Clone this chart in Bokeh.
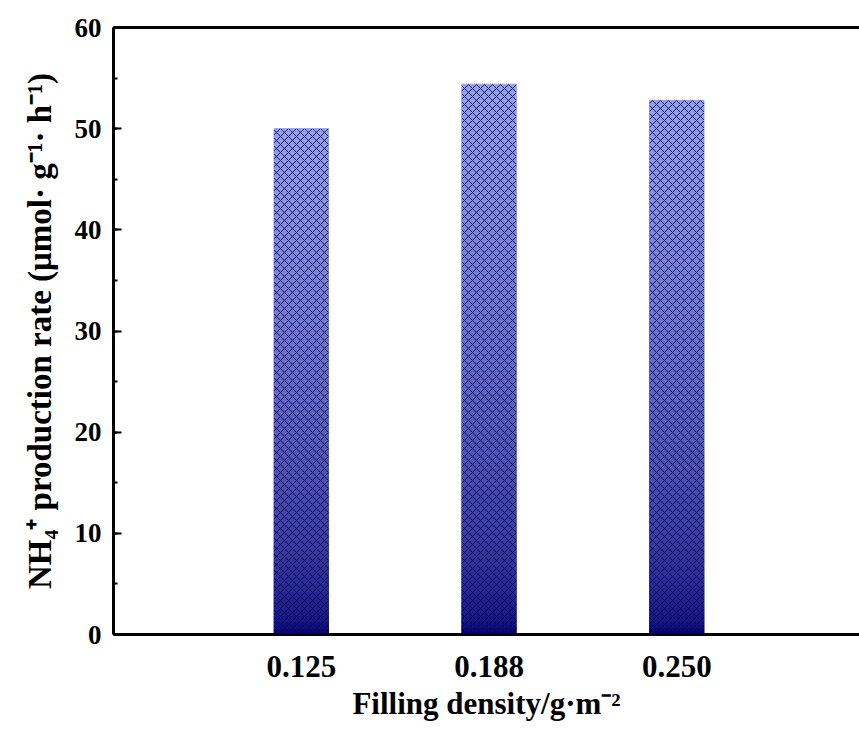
import numpy as np
from bokeh.plotting import figure
from bokeh.models import FixedTicker, SingleIntervalTicker, Range1d, LinearAxis, ColumnDataSource
from bokeh.embed import file_html
from bokeh.resources import INLINE

categories = ["0.125", "0.188", "0.250"]
values = [50.0, 54.4, 52.8]
positions = [1, 2, 3]

FONT = "Liberation Serif"
top_rgb = np.array([148, 158, 245])
bot_rgb = np.array([5, 5, 130])

p = figure(width=859, height=729, output_backend="svg", toolbar_location=None,
           x_range=Range1d(0, 3.973), y_range=Range1d(0, 60),
           min_border_left=113, min_border_right=0, min_border_top=27, min_border_bottom=95)
p.outline_line_color = None
p.grid.visible = False
p.background_fill_color = "white"
p.border_fill_color = "white"

bw = 0.29
N = 80
left, right, bottom, top, colors = [], [], [], [], []
for x, v in zip(positions, values):
    for i in range(N):
        f = i / (N - 1)
        c = bot_rgb + (top_rgb - bot_rgb) * (f ** 0.6)
        left.append(x - bw / 2); right.append(x + bw / 2)
        bottom.append(v * i / N); top.append(v * (i + 1) / N)
        colors.append("#%02x%02x%02x" % tuple(int(round(t)) for t in c))
p.quad(left=left, right=right, bottom=bottom, top=top, fill_color=colors,
       line_color=colors, line_width=1)

src = ColumnDataSource(dict(x=positions, top=values))
p.vbar(x="x", top="top", width=bw, source=src, fill_alpha=0, line_color=None,
       hatch_pattern="diagonal_cross", hatch_color="#000022", hatch_alpha=0.8,
       hatch_scale=8, hatch_weight=1)

# x axis
xa = p.xaxis[0]
xa.ticker = FixedTicker(ticks=positions)
xa.major_label_overrides = {pos: c for pos, c in zip(positions, categories)}
xa.major_tick_line_color = None
xa.minor_tick_line_color = None
xa.axis_line_width = 3
xa.axis_line_color = "black"
xa.major_label_text_font = FONT
xa.major_label_text_font_style = "bold"
xa.major_label_text_font_size = "31px"
xa.major_label_text_color = "black"
xa.major_label_standoff = 15
xa.axis_label = "Filling density/g·m⁻²"
xa.axis_label_text_font = FONT
xa.axis_label_text_font_style = "bold"
xa.axis_label_text_font_size = "31px"
xa.axis_label_text_color = "black"
xa.axis_label_standoff = 6

ya = p.yaxis[0]
ya.ticker = SingleIntervalTicker(interval=10, num_minor_ticks=2)
ya.axis_line_width = 3
ya.axis_line_color = "black"
ya.major_tick_in = 8
ya.major_tick_out = 0
ya.minor_tick_in = 4
ya.minor_tick_out = 0
ya.major_tick_line_width = 2
ya.minor_tick_line_width = 2
ya.major_tick_line_color = "black"
ya.minor_tick_line_color = "black"
ya.major_label_text_font = FONT
ya.major_label_text_font_style = "bold"
ya.major_label_text_font_size = "27px"
ya.major_label_text_color = "black"
ya.major_label_standoff = 12
ya.axis_label = "NH₄⁺ production rate (μmol· g⁻¹· h⁻¹)"
ya.axis_label_text_font = FONT
ya.axis_label_text_font_style = "bold"
ya.axis_label_text_font_size = "33px"
ya.axis_label_text_color = "black"
ya.axis_label_standoff = 14

top_axis = LinearAxis(major_tick_line_color=None, minor_tick_line_color=None,
                      major_label_text_font_size="0px", axis_line_width=3,
                      axis_line_color="black", ticker=FixedTicker(ticks=[]))
p.add_layout(top_axis, "above")

open("out.html", "w").write(file_html(p, INLINE))
